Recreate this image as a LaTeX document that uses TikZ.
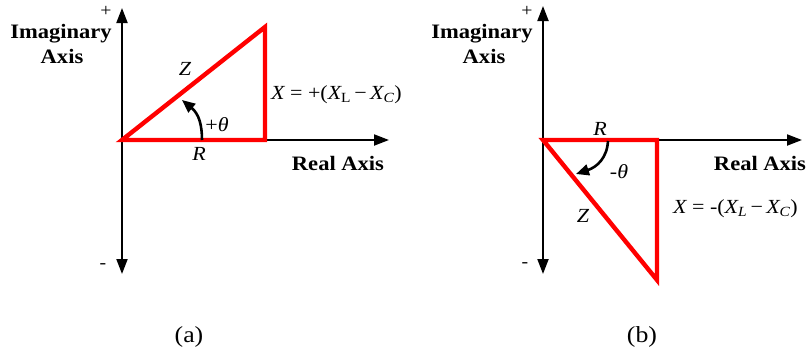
\documentclass[tikz,border=0pt]{standalone}
\usepackage{fontspec}
\setmainfont{Liberation Serif}
\newfontfamily\lblfont[FakeStretch=1.1]{Liberation Serif}
\newfontfamily\capfont[FakeStretch=1.12]{Liberation Serif}
\usetikzlibrary{arrows.meta}
\begin{document}
\begin{tikzpicture}[x=1pt,y=-1pt,
  axisline/.style={line width=2pt},
  tipend/.style={-{Triangle[length=15pt,width=11pt]}},
  tipboth/.style={{Triangle[length=15pt,width=11pt]}-{Triangle[length=15pt,width=11pt]}},
  redtri/.style={draw=red, line width=4.4pt, line join=miter},
  anglearrow/.style={line width=2.6pt, -{Triangle[length=13pt,width=11pt]}},
  axislbl/.style={font=\lblfont\bfseries\fontsize{20.5}{22}\selectfont, anchor=base, inner sep=0pt},
  mathlbl/.style={font=\lblfont\itshape\fontsize{20}{22}\selectfont, anchor=base, inner sep=0pt},
  signlbl/.style={font=\lblfont\fontsize{18}{20}\selectfont, inner sep=0pt},
  caplbl/.style={font=\capfont\fontsize{23}{25}\selectfont, anchor=base, inner sep=0pt}
]
\useasboundingbox (0,0) rectangle (812,351);

% ---------- (a) ----------
\coordinate (Atop) at (122,8);
\coordinate (Abot) at (122,274);
\coordinate (AO) at (122,140);
\coordinate (Aright) at (389,140);
\coordinate (AR) at (265,140);
\coordinate (AT) at (265,27);
\draw[axisline,tipboth] (Atop) -- (Abot);
\draw[axisline,tipend] (AO) -- (Aright);
\draw[redtri] (AO) -- (AR) -- (AT) -- cycle;
\coordinate (Aarc1) at (202,140);
\coordinate (Aarc2) at (182,100);
\draw[anglearrow] (Aarc1) .. controls (202,125) and (199,114) .. (Aarc2);

\node[axislbl] (AimA) at (61,38) {Imaginary};
\node[axislbl] (AimB) at (62,63) {Axis};
\node[signlbl] (Aplus) at (106,11) {+};
\node[signlbl] (Aminus) at (103,266) {-};
\node[axislbl] (Areal) at (338,170) {Real Axis};
\node[mathlbl] (AZ) at (185,75) {Z};
\node[mathlbl] (AR0) at (199,160) {R};
\node[mathlbl] (Ath) at (217,131) {\upshape+\itshape θ};
\node[mathlbl, anchor=base west] (AX) at (271,99)
  {X\upshape\ =\ +(\itshape X\upshape\textsubscript{L}\,−\,\itshape X\textsubscript{C}\upshape)};
\node[caplbl] (Acap) at (189,342) {(a)};

% ---------- (b) ----------
\coordinate (Btop) at (543,6);
\coordinate (Bbot) at (543,274);
\coordinate (BO) at (543,140);
\coordinate (Bright) at (802,140);
\coordinate (BR) at (657,140);
\coordinate (BT) at (657,280);
\draw[axisline,tipboth] (Btop) -- (Bbot);
\draw[axisline,tipend] (BO) -- (Bright);
\draw[redtri] (BO) -- (BR) -- (BT) -- cycle;
\coordinate (Barc1) at (608,141);
\coordinate (Barc2) at (576,174);
\draw[anglearrow] (Barc1) .. controls (607,158) and (597,167) .. (Barc2);

\node[axislbl] (BimA) at (482,38) {Imaginary};
\node[axislbl] (BimB) at (484,63) {Axis};
\node[signlbl] (Bplus) at (527,11) {+};
\node[signlbl] (Bminus) at (525,265) {-};
\node[axislbl] (Breal) at (760,170) {Real Axis};
\node[mathlbl] (BR0) at (600,135) {R};
\node[mathlbl] (Bth) at (619,178) {\upshape-\itshape θ};
\node[mathlbl] (BZ) at (583,222) {Z};
\node[mathlbl, anchor=base west] (BX) at (673,213)
  {X\upshape\ =\ -(\itshape X\textsubscript{L}\upshape\,−\,\itshape X\textsubscript{C}\upshape)};
\node[caplbl] (Bcap) at (642,342) {(b)};
\end{tikzpicture}
\end{document}
